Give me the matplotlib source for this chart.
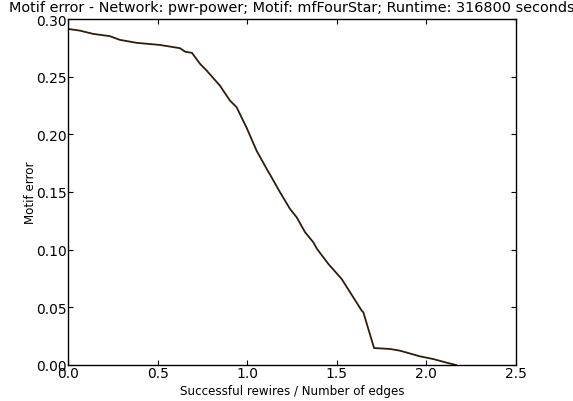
import matplotlib
matplotlib.use("Agg")
import matplotlib.pyplot as plt

# Motif error as a function of successful rewires per edge
rewires_per_edge = [0.000, 0.067, 0.140, 0.234, 0.290, 0.385, 0.513, 0.625, 0.653,
                    0.692, 0.737, 0.774, 0.848, 0.904, 0.941, 0.997, 1.053, 1.109,
                    1.137, 1.183, 1.239, 1.276, 1.323, 1.369, 1.388, 1.453, 1.527,
                    1.574, 1.639, 1.648, 1.708, 1.797, 1.853, 1.964, 2.037, 2.121,
                    2.165]
motif_error = [0.2914, 0.2899, 0.2871, 0.2851, 0.2819, 0.2793, 0.2775, 0.2747, 0.2717,
               0.2706, 0.2611, 0.2552, 0.2422, 0.2292, 0.2235, 0.2056, 0.1856, 0.1700,
               0.1625, 0.1498, 0.1353, 0.1281, 0.1151, 0.1064, 0.1010, 0.0876, 0.0746,
               0.0631, 0.0471, 0.0457, 0.0147, 0.0139, 0.0124, 0.0075, 0.0052, 0.0017,
               0.0000]

x_ticks = [0.0, 0.5, 1.0, 1.5, 2.0, 2.5]
y_ticks = [0.00, 0.05, 0.10, 0.15, 0.20, 0.25, 0.30]

fig = plt.figure(figsize=(5.73, 4.02), dpi=100)
ax = fig.add_axes([68 / 573, 36 / 402, 448 / 573, 346 / 402])

ax.plot(rewires_per_edge, motif_error, color="#2e1d0c", lw=1.3)

ax.set_xlim(0, 2.5)
ax.set_ylim(0, 0.30)
ax.set_xticks(x_ticks)
ax.set_xticklabels([f"{v:.1f}" for v in x_ticks])
ax.set_yticks(y_ticks)
ax.set_yticklabels([f"{v:.2f}" for v in y_ticks])
ax.tick_params(direction="in", length=3.5, width=0.8, top=True, right=True,
               labelsize=10, pad=1)
for s in ax.spines.values():
    s.set_linewidth(1.0)

ax.set_xlabel("Successful rewires / Number of edges", fontsize=8.6, labelpad=2.5)
ax.set_ylabel("Motif error", fontsize=8.6, labelpad=-0.5)
ax.set_title("Motif error - Network: pwr-power; Motif: mfFourStar; Runtime: 316800 seconds",
             fontsize=10.35, pad=6)

fig.savefig("out.png", dpi=100)
